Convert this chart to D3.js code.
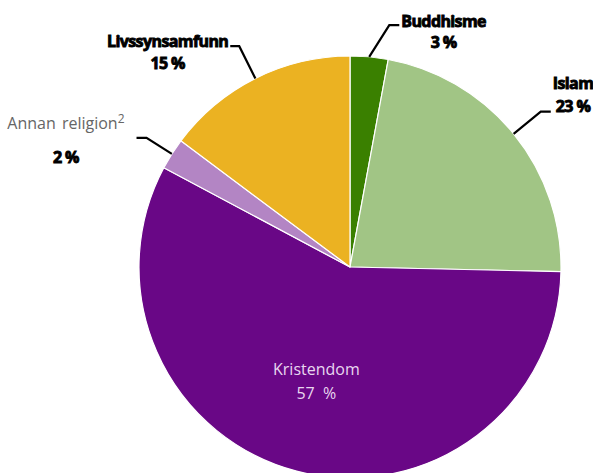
<!DOCTYPE html>
<html lang="no">
<head>
<meta charset="utf-8">
<title>Religion</title>
<script src="https://d3js.org/d3.v7.min.js"></script>
<style>
  body { margin: 0; background: #fff; }
  svg { display: block; font-family: "Open Sans", sans-serif; }
  .lbl-bold { font-size: 16px; font-weight: 700; fill: #000; stroke: #000; stroke-width: 0.9px; letter-spacing: -0.6px; }
  .lbl-plain { font-size: 16px; font-weight: 400; }
  .leader { fill: none; stroke: #000; stroke-width: 2.2px; }
</style>
</head>
<body>
<div id="chart"></div>
<script>
// slices clockwise from 12 o'clock
const categories = ["Buddhisme", "Islam", "Kristendom", "Annan religion", "Livssynsamfunn"];
const shares = [2.9, 22.45, 57.45, 2.4, 14.8];
const shareLabels = ["3 %", "23 %", "57 %", "2 %", "15 %"];
const colors = ["#3a8000", "#a1c585", "#690786", "#b385c4", "#ebb222"];

const width = 593, height = 473;
const cx = 350, cy = 267, radius = 211;

// label layout: side of the horizontal tail, offsets of the two text lines from the tail end
const layout = {
  "Buddhisme":      { side: 1,  elbowR: 245, elbowShift: 0.07, tail: 10, dy1: 2,   dy2: 23 },
  "Islam":          { side: 1,  elbowR: 246, elbowShift: 0,    tail: 10, dy1: -23, dy2: 0 },
  "Annan religion": { side: -1, elbowR: 241, elbowShift: 0,    tail: 10, dy1: -9,  dy2: 25, gap: 12, plain: true },
  "Livssynsamfunn": { side: -1, elbowR: 247, elbowShift: 0,    tail: 9,  dy1: 1,   dy2: 23, gap: 2 }
};

const data = categories.map((c, i) => ({ name: c, value: shares[i], label: shareLabels[i], color: colors[i] }));

const svg = d3.select("#chart").append("svg")
  .attr("width", width).attr("height", height);
const g = svg.append("g").attr("transform", `translate(${cx},${cy})`);

const pie = d3.pie().sort(null).value(d => d.value);
const arcs = pie(data);
const arc = d3.arc().innerRadius(0).outerRadius(radius);

g.selectAll("path.slice")
  .data(arcs)
  .enter().append("path")
  .attr("class", "slice")
  .attr("d", arc)
  .attr("fill", d => d.data.color)
  .attr("stroke", "#fff")
  .attr("stroke-width", 1.2)
  .attr("stroke-linejoin", "round");

function polar(a, r) { return [r * Math.sin(a), -r * Math.cos(a)]; }

// outside labels with leader lines
arcs.forEach(d => {
  const L = layout[d.data.name];
  if (!L) return;
  const mid = (d.startAngle + d.endAngle) / 2;
  const p0 = polar(mid, radius);
  const p1 = polar(mid + L.elbowShift, L.elbowR);
  const p2 = [p1[0] + L.side * L.tail, p1[1]];
  g.append("path").attr("class", "leader")
    .attr("d", d3.line()([p0, p1, p2]));

  const t1 = g.append("text")
    .attr("class", L.plain ? "lbl-plain" : "lbl-bold")
    .attr("fill", L.plain ? "#666" : "#000")
    .attr("word-spacing", L.plain ? "2px" : null)
    .attr("y", p2[1] + L.dy1);
  t1.append("tspan").text(d.data.name);
  if (L.plain) {
    t1.append("tspan").attr("font-size", "12px").attr("dy", -6).text("2");
  }
  const w = t1.node().getComputedTextLength();
  const gap = L.gap || 2;
  const x1 = L.side > 0 ? p2[0] + gap : p2[0] - gap - w;
  t1.attr("x", x1);

  g.append("text")
    .attr("class", "lbl-bold")
    .attr("text-anchor", "middle")
    .attr("x", x1 + w / 2)
    .attr("y", p2[1] + L.dy2)
    .text(d.data.label);
});

// inside label
const inner = d3.arc().innerRadius(radius * 0.565).outerRadius(radius * 0.565);
arcs.filter(d => d.data.name === "Kristendom").forEach(d => {
  const c = inner.centroid({ startAngle: d.startAngle + 0.03, endAngle: d.endAngle + 0.03 });
  g.append("text").attr("class", "lbl-plain").attr("fill", "#e8d6ef")
    .attr("text-anchor", "middle").attr("x", c[0]).attr("y", c[1] - 6)
    .text(d.data.name);
  g.append("text").attr("class", "lbl-plain").attr("fill", "#e8d6ef")
    .attr("text-anchor", "middle").attr("x", c[0]).attr("y", c[1] + 18)
    .attr("xml:space", "preserve")
    .text(d.data.label.replace(" ", "  "));
});
</script>
</body>
</html>
